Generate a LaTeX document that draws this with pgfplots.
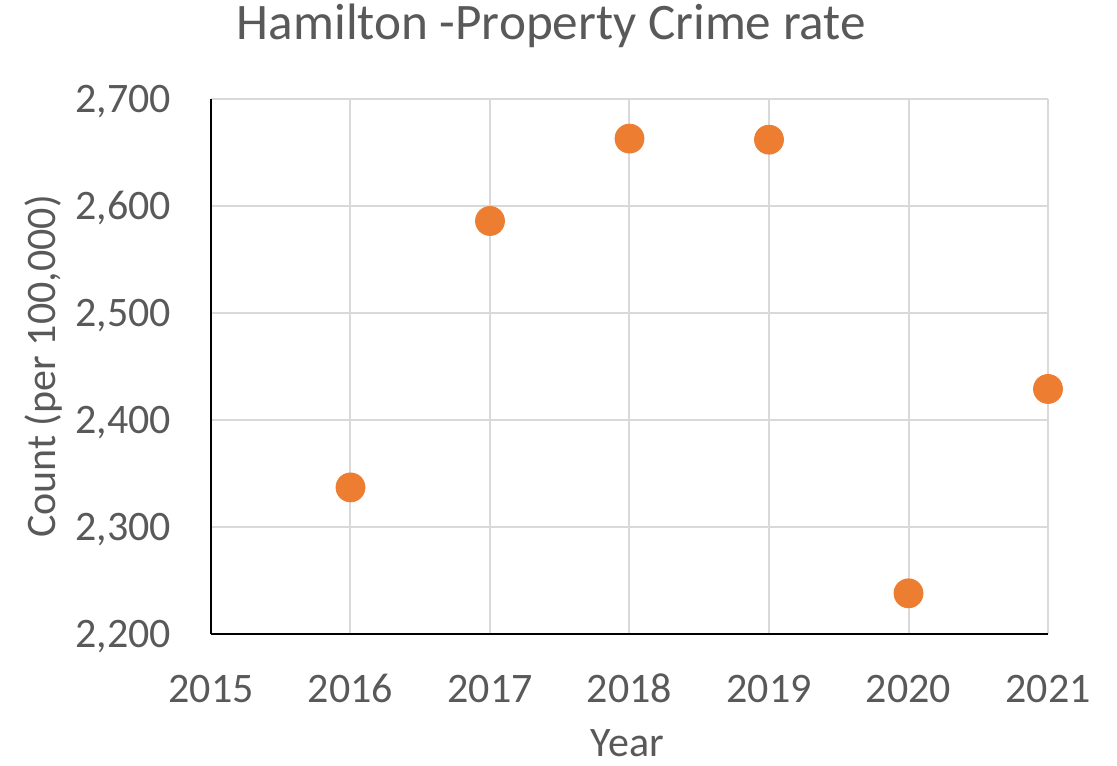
\documentclass[border=0pt]{standalone}
\usepackage{fontspec}
\setmainfont{Carlito}
\usepackage{pgfplots}
\pgfplotsset{compat=1.18}
\definecolor{txtgray}{HTML}{595959}
\definecolor{gridgray}{HTML}{D9D9D9}
\definecolor{dotorange}{HTML}{ED7D31}

\begin{document}
\begin{tikzpicture}
\useasboundingbox (-105.5pt,-65.5pt) rectangle (453pt,317pt);
\begin{axis}[
    scale only axis,
    width=418.5pt, height=267.5pt,
    at={(0,0)}, anchor=south west,
    xmin=2015, xmax=2021, ymin=2200, ymax=2700,
    xtick={2015,2016,...,2021},
    ytick={2200,2300,...,2700},
    axis lines=left,
    axis line style={-, black, line width=1pt},
    major tick length=0pt,
    grid=major,
    grid style={gridgray, line width=1pt},
    clip=false,
    font=\fontsize{21pt}{25pt}\selectfont,
    /pgf/number format/assume math mode=true,
    xticklabel style={anchor=base, inner sep=0pt, yshift=-34pt, text=txtgray,
        /pgf/number format/1000 sep={}},
    yticklabel style={anchor=base east, inner sep=0pt, xshift=-19.75pt,
        yshift=-6.5pt, text=txtgray, /pgf/number format/1000 sep={,}},
    title={Hamilton -Property Crime rate},
    title style={at={(axis description cs:0.4068,1.1121)}, anchor=base,
        yshift=-6pt, text=txtgray, font=\fontsize{25.6pt}{30pt}\selectfont},
    xlabel={Year},
    xlabel style={at={(axis description cs:0.4976,-0.2290)}, anchor=base,
        inner sep=0pt, text=txtgray},
    ylabel={Count (per 100,000)},
    ylabel style={at={(axis description cs:-0.1852,0.5)}, anchor=base,
        text=txtgray},
]
\addplot[only marks, mark=*, mark size=7.25pt,
    mark options={fill=dotorange, draw=dotorange}]
    coordinates {
    (2016,2337) (2017,2586) (2018,2663) (2019,2662) (2020,2238) (2021,2429)
};
\end{axis}
\end{tikzpicture}
\end{document}
